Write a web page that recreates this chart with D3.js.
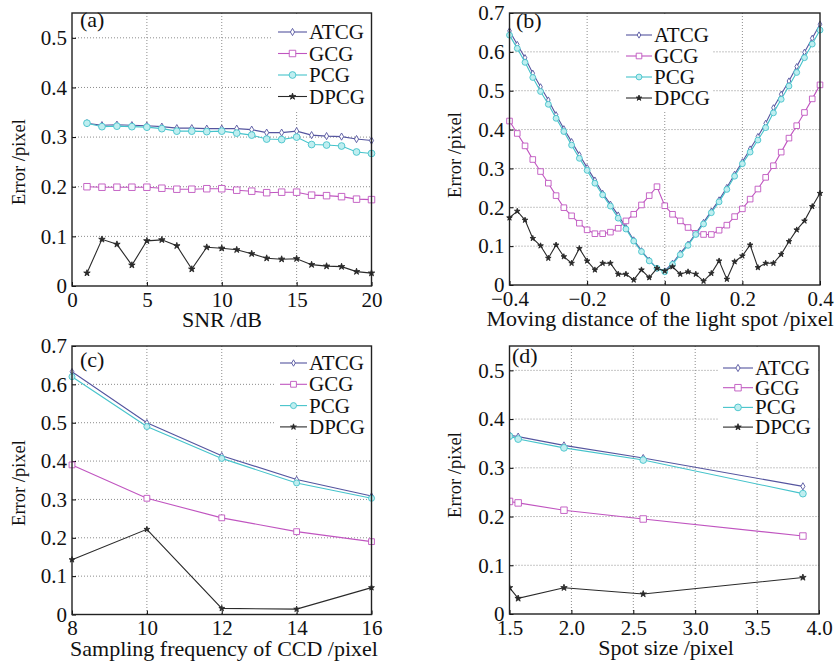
<!DOCTYPE html>
<html>
<head>
<meta charset="utf-8">
<title>Error /pixel - four panels</title>
<script src="https://d3js.org/d3.v7.min.js"></script>
<style>
    body { margin: 0; background: #fff; }
    text { font-family: "Liberation Serif", "Times New Roman", serif; fill: #111; }
    .grid line { stroke: #8c8c8c; stroke-width: 1; stroke-dasharray: 1,2; }
    .frame { fill: none; stroke: #222; stroke-width: 1.4; }
    .series path.line { fill: none; stroke-width: 1.1; }
</style>
</head>
<body>
<script>
// ---- data ----
const names = ["ATCG", "GCG", "PCG", "DPCG"];
const serif = "Liberation Serif, Times New Roman, serif";

// (a) SNR
const aX = [1, 2, 3, 4, 5, 6, 7, 8, 9, 10, 11, 12, 13, 14, 15, 16, 17, 18, 19, 20];
const aATCG = [0.328, 0.324, 0.325, 0.324, 0.323, 0.321, 0.318, 0.318, 0.317, 0.317, 0.317, 0.315, 0.309, 0.309, 0.312, 0.304, 0.302, 0.301, 0.296, 0.293];
const aGCG  = [0.200, 0.199, 0.199, 0.199, 0.199, 0.197, 0.195, 0.195, 0.196, 0.196, 0.193, 0.191, 0.188, 0.189, 0.189, 0.183, 0.182, 0.180, 0.175, 0.174];
const aPCG  = [0.328, 0.321, 0.322, 0.321, 0.320, 0.317, 0.312, 0.312, 0.311, 0.312, 0.308, 0.304, 0.296, 0.295, 0.300, 0.285, 0.284, 0.282, 0.270, 0.267];
const aDPCG = [0.026, 0.094, 0.084, 0.042, 0.091, 0.093, 0.081, 0.034, 0.078, 0.076, 0.073, 0.065, 0.056, 0.054, 0.055, 0.043, 0.040, 0.039, 0.029, 0.026];

// (b) moving distance
const bX = [-0.40, -0.38, -0.36, -0.34, -0.32, -0.30, -0.28, -0.26, -0.24, -0.22, -0.20, -0.18, -0.16, -0.14, -0.12, -0.10, -0.08, -0.06, -0.04, -0.02,
            0, 0.02, 0.04, 0.06, 0.08, 0.10, 0.12, 0.14, 0.16, 0.18, 0.20, 0.22, 0.24, 0.26, 0.28, 0.30, 0.32, 0.34, 0.36, 0.38, 0.40];
const bATCG = [0.654, 0.619, 0.585, 0.545, 0.510, 0.476, 0.438, 0.402, 0.369, 0.335, 0.302, 0.270, 0.236, 0.208, 0.180, 0.148, 0.116, 0.088, 0.064, 0.043,
               0.036, 0.056, 0.082, 0.105, 0.133, 0.161, 0.190, 0.219, 0.251, 0.285, 0.317, 0.350, 0.382, 0.416, 0.456, 0.491, 0.525, 0.562, 0.599, 0.635, 0.671];
const bGCG  = [0.422, 0.390, 0.358, 0.323, 0.292, 0.262, 0.230, 0.199, 0.178, 0.159, 0.142, 0.132, 0.132, 0.136, 0.146, 0.165, 0.182, 0.206, 0.230, 0.253,
               0.204, 0.182, 0.165, 0.148, 0.133, 0.130, 0.130, 0.141, 0.154, 0.176, 0.196, 0.221, 0.247, 0.277, 0.307, 0.342, 0.378, 0.410, 0.444, 0.479, 0.515];
const bPCG  = [0.643, 0.609, 0.573, 0.534, 0.498, 0.465, 0.429, 0.395, 0.360, 0.326, 0.295, 0.262, 0.232, 0.203, 0.172, 0.144, 0.113, 0.086, 0.062, 0.043,
               0.034, 0.053, 0.078, 0.102, 0.130, 0.157, 0.186, 0.214, 0.246, 0.280, 0.312, 0.342, 0.373, 0.405, 0.443, 0.478, 0.512, 0.547, 0.585, 0.620, 0.656];
const bDPCG = [0.173, 0.190, 0.167, 0.120, 0.101, 0.069, 0.103, 0.073, 0.056, 0.094, 0.062, 0.039, 0.056, 0.056, 0.028, 0.028, 0.013, 0.039, 0.019, 0.043,
               0.036, 0.047, 0.028, 0.034, 0.028, 0.010, 0.030, 0.062, 0.015, 0.060, 0.075, 0.103, 0.045, 0.056, 0.056, 0.079, 0.112, 0.142, 0.165, 0.202, 0.236];

// (c) sampling frequency
const cX = [8, 10, 12, 14, 16];
const cATCG = [0.633, 0.500, 0.414, 0.352, 0.309];
const cGCG  = [0.390, 0.303, 0.252, 0.216, 0.190];
const cPCG  = [0.620, 0.490, 0.407, 0.343, 0.303];
const cDPCG = [0.143, 0.222, 0.016, 0.014, 0.070];

// (d) spot size
const dX = [1.5, 1.57, 1.94, 2.58, 3.87];
const dATCG = [0.367, 0.364, 0.346, 0.320, 0.262];
const dGCG  = [0.231, 0.228, 0.213, 0.195, 0.160];
const dPCG  = [0.365, 0.359, 0.341, 0.316, 0.247];
const dDPCG = [0.054, 0.032, 0.054, 0.041, 0.075];

// tick values
const aXTicks = [0, 5, 10, 15, 20];
const bXTicks = [-0.4, -0.2, 0, 0.2, 0.4];
const cXTicks = [8, 10, 12, 14, 16];
const dXTicks = [1.5, 2.0, 2.5, 3.0, 3.5, 4.0];
const yTicks55 = [0, 0.1, 0.2, 0.3, 0.4, 0.5];
const yTicks70 = [0, 0.1, 0.2, 0.3, 0.4, 0.5, 0.6, 0.7];

// ---- styles ----
const styles = {
    ATCG: { color: "#55559f", sym: d3.symbolDiamond, size: 15, fill: "#fff" },
    GCG:  { color: "#c055c0", sym: d3.symbolSquare,  size: 42, fill: "#fff" },
    PCG:  { color: "#45c3cb", sym: d3.symbolCircle,  size: 36, fill: "#bfeef0" },
    DPCG: { color: "#2a2a2a", sym: d3.symbolStar,    size: 13, fill: "#2a2a2a" }
};

const svg = d3.select("body").append("svg")
    .attr("width", 839)
    .attr("height", 663);

let clipId = 0;

function panel(cfg) {
    let x = d3.scaleLinear().domain(cfg.xDomain).range([cfg.left, cfg.right]);
    let y = d3.scaleLinear().domain(cfg.yDomain).range([cfg.bottom, cfg.top]);
    let g = svg.append("g");

    // dotted grid
    let grid = g.append("g").attr("class", "grid");
    grid.selectAll("line.gx").data(cfg.xTicks.slice(1, -1)).join("line")
        .attr("class", "gx")
        .attr("x1", d => x(d)).attr("x2", d => x(d))
        .attr("y1", cfg.top).attr("y2", cfg.bottom);
    grid.selectAll("line.gy").data(cfg.yTicks.filter(d => d > 0 && y(d) > cfg.top + 2)).join("line")
        .attr("class", "gy")
        .attr("x1", cfg.left).attr("x2", cfg.right)
        .attr("y1", d => y(d)).attr("y2", d => y(d));

    // axes
    g.append("g")
        .attr("transform", `translate(0,${cfg.bottom})`)
        .call(d3.axisBottom(x).tickValues(cfg.xTicks).tickFormat(cfg.xFmt)
            .tickSizeInner(-4).tickSizeOuter(0).tickPadding(6))
        .attr("font-size", 21)
        .attr("font-family", serif)
        .call(a => a.select(".domain").remove());
    g.append("g")
        .attr("transform", `translate(${cfg.left},0)`)
        .call(d3.axisLeft(y).tickValues(cfg.yTicks).tickFormat(d => d === 0 ? "0" : d3.format(".1f")(d))
            .tickSizeInner(-4).tickSizeOuter(0).tickPadding(5))
        .attr("font-size", 21)
        .attr("font-family", serif)
        .call(a => a.select(".domain").remove());

    // series, clipped a little outside the frame (or at it for panel d)
    let cid = "clip" + (clipId++);
    let clipLeft = cfg.clip ? cfg.left : cfg.left - 10;
    g.append("clipPath").attr("id", cid).append("rect")
        .attr("x", clipLeft).attr("y", cfg.top - 10)
        .attr("width", cfg.right - clipLeft + 10)
        .attr("height", cfg.bottom - cfg.top + 20);

    let line = d3.line().x(d => x(d[0])).y(d => y(d[1]));
    names.forEach(name => {
        let st = styles[name];
        let pts = cfg.x.map((v, i) => [v, cfg.series[name][i]]);
        let s = g.append("g").attr("class", "series").attr("clip-path", `url(#${cid})`);
        s.append("path").attr("class", "line")
            .attr("d", line(pts))
            .attr("stroke", st.color);
        s.selectAll("path.mark").data(pts).join("path")
            .attr("class", "mark")
            .attr("transform", d => `translate(${x(d[0])},${y(d[1])})`)
            .attr("d", d3.symbol().type(st.sym).size(st.size * cfg.mark))
            .attr("fill", st.fill)
            .attr("stroke", st.color)
            .attr("stroke-width", 0.9);
    });

    // legend
    let L = cfg.legend;
    g.append("rect")
        .attr("x", L.bg[0]).attr("y", L.bg[1])
        .attr("width", L.bg[2]).attr("height", L.bg[3])
        .attr("fill", "#fff");
    names.forEach((name, i) => {
        let st = styles[name];
        let yy = L.y + i * L.dy;
        g.append("line")
            .attr("x1", L.x).attr("x2", L.x + L.w)
            .attr("y1", yy).attr("y2", yy)
            .attr("stroke", st.color).attr("stroke-width", 1.1);
        g.append("path")
            .attr("transform", `translate(${L.x + L.w / 2},${yy})`)
            .attr("d", d3.symbol().type(st.sym).size(st.size * cfg.mark))
            .attr("fill", st.fill).attr("stroke", st.color).attr("stroke-width", 0.9);
        g.append("text")
            .attr("x", L.x + L.w + 2).attr("y", yy + 7)
            .attr("font-size", 21)
            .text(name);
    });

    // frame
    g.append("rect").attr("class", "frame")
        .attr("x", cfg.left).attr("y", cfg.top)
        .attr("width", cfg.right - cfg.left).attr("height", cfg.bottom - cfg.top);

    // panel tag
    g.append("text")
        .attr("x", cfg.tag[0]).attr("y", cfg.tag[1])
        .attr("font-size", 22)
        .text(cfg.tagText);

    // axis titles
    g.append("text")
        .attr("x", cfg.xTitleX).attr("y", cfg.bottom + 41)
        .attr("text-anchor", "middle")
        .attr("font-size", 22)
        .text(cfg.xTitle);
    g.append("text")
        .attr("transform", `translate(${cfg.yTitle[0]},${cfg.yTitle[1]}) rotate(-90)`)
        .attr("text-anchor", "middle")
        .attr("dy", "0.35em")
        .attr("font-size", 18.5)
        .text("Error /pixel");
}

panel({
    left: 72, right: 371.5, top: 13, bottom: 286,
    xDomain: [0, 20], yDomain: [0, 0.55],
    xTicks: aXTicks, yTicks: yTicks55, xFmt: d3.format("d"),
    x: aX, series: { ATCG: aATCG, GCG: aGCG, PCG: aPCG, DPCG: aDPCG },
    mark: 1,
    legend: { x: 278, y: 32, dy: 21.5, w: 29, bg: [273, 14, 98, 96] },
    tag: [80, 27], tagText: "(a)",
    xTitle: "SNR /dB", xTitleX: 222,
    yTitle: [19, 162]
});

panel({
    left: 509.5, right: 820, top: 13, bottom: 285,
    xDomain: [-0.4, 0.4], yDomain: [0, 0.7],
    xTicks: bXTicks, yTicks: yTicks70, xFmt: d => d === 0 ? "0" : d3.format(".1f")(d),
    x: bX, series: { ATCG: bATCG, GCG: bGCG, PCG: bPCG, DPCG: bDPCG },
    mark: 0.75,
    legend: { x: 626, y: 35, dy: 21, w: 26, bg: [620, 15, 92, 95] },
    tag: [516, 28], tagText: "(b)",
    xTitle: "Moving distance of the light spot /pixel", xTitleX: 660,
    yTitle: [455, 155]
});

panel({
    left: 72, right: 371.5, top: 346, bottom: 614.5,
    xDomain: [8, 16], yDomain: [0, 0.7],
    xTicks: cXTicks, yTicks: yTicks70, xFmt: d3.format("d"),
    x: cX, series: { ATCG: cATCG, GCG: cGCG, PCG: cPCG, DPCG: cDPCG },
    mark: 0.8,
    legend: { x: 280, y: 363, dy: 21.3, w: 27, bg: [274, 348, 97, 89] },
    tag: [80, 367], tagText: "(c)",
    xTitle: "Sampling frequency of CCD /pixel", xTitleX: 224,
    yTitle: [19, 483]
});

panel({
    left: 509.5, right: 819, top: 346, bottom: 614,
    xDomain: [1.5, 4.0], yDomain: [0, 0.55],
    xTicks: dXTicks, yTicks: yTicks55, xFmt: d3.format(".1f"),
    x: dX, series: { ATCG: dATCG, GCG: dGCG, PCG: dPCG, DPCG: dDPCG },
    mark: 1, clip: true,
    legend: { x: 723, y: 368, dy: 19.7, w: 30, bg: [718, 348, 100, 92] },
    tag: [512, 363], tagText: "(d)",
    xTitle: "Spot size /pixel", xTitleX: 666,
    yTitle: [455, 475]
});
</script>
</body>
</html>
